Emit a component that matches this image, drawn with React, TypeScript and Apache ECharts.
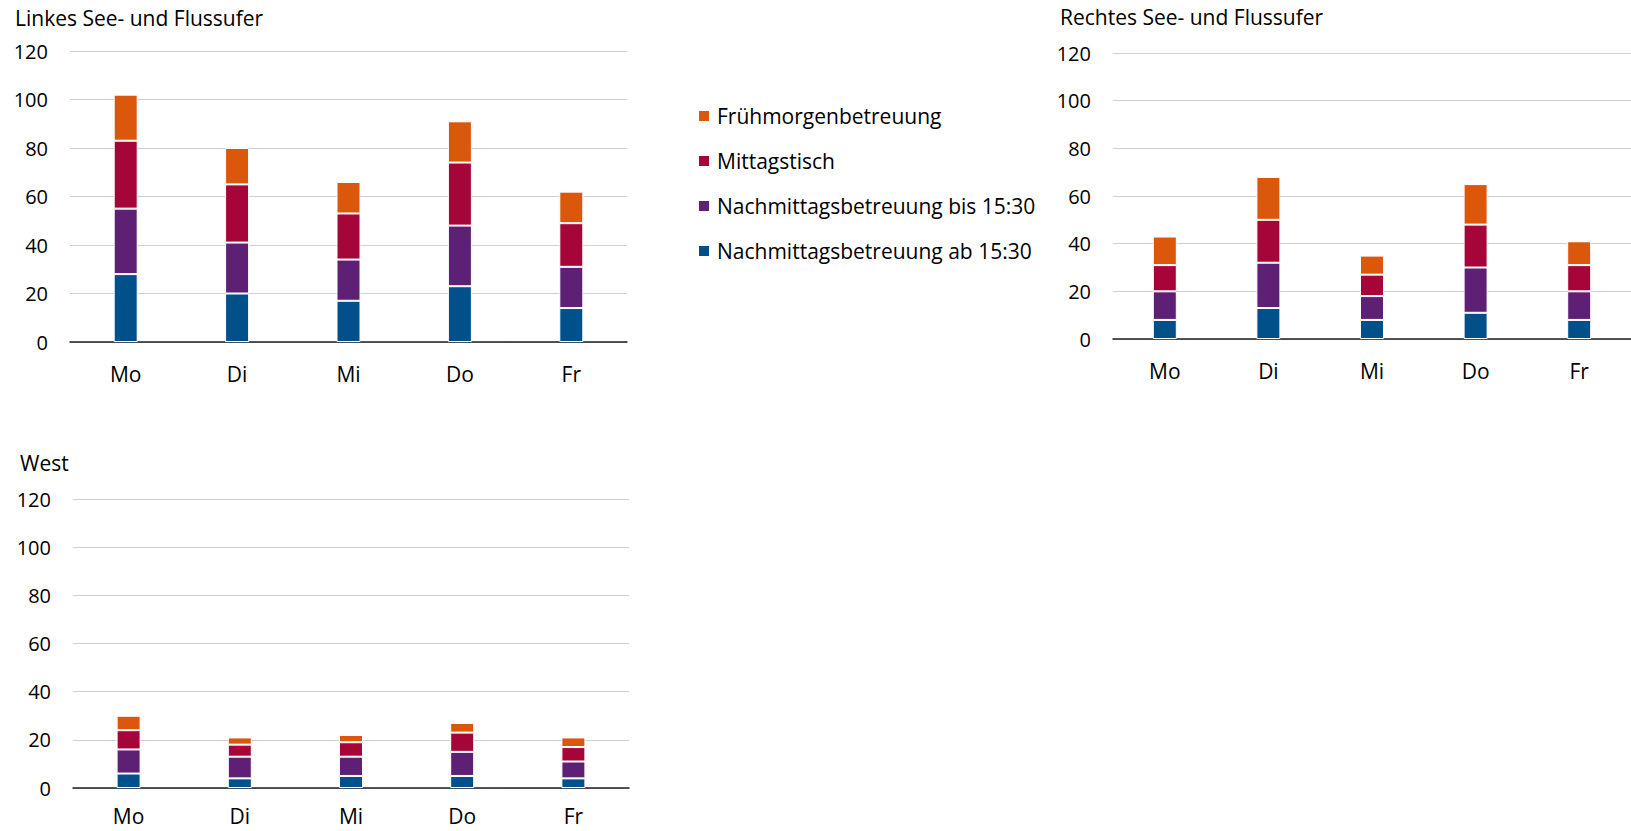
import React, { useEffect, useRef } from "react";
import * as echarts from "echarts";

const days = ["Mo", "Di", "Mi", "Do", "Fr"];
const seriesNames = [
  "Nachmittagsbetreuung ab 15:30",
  "Nachmittagsbetreuung bis 15:30",
  "Mittagstisch",
  "Frühmorgenbetreuung",
];
const legendOrder = [
  "Frühmorgenbetreuung",
  "Mittagstisch",
  "Nachmittagsbetreuung bis 15:30",
  "Nachmittagsbetreuung ab 15:30",
];
const colors = ["#02508a", "#5e2075", "#a60539", "#db570c"];
const yTicks = [0, 20, 40, 60, 80, 100, 120];

const titles = ["Linkes See- und Flussufer", "Rechtes See- und Flussufer", "West"];

// Linkes See- und Flussufer
const linksAb = [28, 20, 17, 23, 14];
const linksBis = [27, 21, 17, 25, 17];
const linksMittag = [28, 24, 19, 26, 18];
const linksFrueh = [19, 15, 13, 17, 13];

// Rechtes See- und Flussufer
const rechtsAb = [8, 13, 8, 11, 8];
const rechtsBis = [12, 19, 10, 19, 12];
const rechtsMittag = [11, 18, 9, 18, 11];
const rechtsFrueh = [12, 18, 8, 17, 10];

// West
const westAb = [6, 4, 5, 5, 4];
const westBis = [10, 9, 8, 10, 7];
const westMittag = [8, 5, 6, 8, 6];
const westFrueh = [6, 3, 3, 4, 4];

const panels = [
  [linksAb, linksBis, linksMittag, linksFrueh],
  [rechtsAb, rechtsBis, rechtsMittag, rechtsFrueh],
  [westAb, westBis, westMittag, westFrueh],
];

const FONT = "'Open Sans', 'Liberation Sans', sans-serif";

export default function App() {
  const ref = useRef<HTMLDivElement>(null);

  useEffect(() => {
    if (!ref.current) return;
    const chart = echarts.init(ref.current, null, { renderer: "svg" });

    const grids = [
      { left: 70, top: 51, width: 557, height: 291 },
      { left: 1113, top: 53, width: 533, height: 286 },
      { left: 73, top: 499, width: 556, height: 289 },
    ];
    const xLabelMargins = [21, 21, 17];
    const titlePos = [
      { left: 15, top: 6 },
      { left: 1060, top: 5 },
      { left: 20, top: 451 },
    ];

    const series: any[] = [];
    panels.forEach((panel, gi) => {
      panel.forEach((vals, si) => {
        series.push({
          name: seriesNames[si],
          type: "bar",
          stack: "s" + gi,
          xAxisIndex: gi,
          yAxisIndex: gi,
          barWidth: 24,
          data: vals,
          itemStyle: { color: colors[si], borderColor: "#ffffff", borderWidth: 1 },
          emphasis: { disabled: true },
        });
      });
    });

    const legendTops = [104, 149, 194, 239];

    chart.setOption({
      animation: false,
      color: colors,
      textStyle: { fontFamily: FONT },
      title: titles.map((t, i) => ({
        text: t,
        left: titlePos[i].left,
        top: titlePos[i].top,
        padding: 0,
        textStyle: { fontFamily: FONT, fontSize: 21, fontWeight: "normal", color: "#000", lineHeight: 24 },
      })),
      legend: legendOrder.map((name, i) => ({
        data: [name],
        orient: "vertical",
        left: 697,
        top: legendTops[i],
        padding: 0,
        icon: "rect",
        itemWidth: 12,
        itemHeight: 12,
        selectedMode: false,
        textStyle: { fontFamily: FONT, fontSize: 21, color: "#000", lineHeight: 24, padding: [0, 0, 0, 2] },
      })),
      grid: grids.map((g) => ({ ...g, containLabel: false })),
      xAxis: grids.map((_, i) => ({
        type: "category",
        gridIndex: i,
        data: days,
        axisTick: { show: false },
        axisLine: { show: true, lineStyle: { color: "#1f1f1f", width: 1.5 } },
        axisLabel: { margin: xLabelMargins[i], fontSize: 21, color: "#000", fontFamily: FONT, lineHeight: 22 },
      })),
      yAxis: grids.map((_, i) => ({
        type: "value",
        gridIndex: i,
        min: yTicks[0],
        max: yTicks[yTicks.length - 1],
        interval: yTicks[1] - yTicks[0],
        axisLine: { show: false },
        axisTick: { show: false },
        axisLabel: { margin: 22, fontSize: 20, color: "#000", fontFamily: FONT },
        splitLine: { lineStyle: { color: "#cfcfcf", width: 1.2 } },
      })),
      series,
    });

    return () => chart.dispose();
  }, []);

  return (
    <div
      ref={ref}
      style={{ position: "absolute", left: 0, top: 0, width: 1631, height: 831, background: "#fff" }}
    />
  );
}
